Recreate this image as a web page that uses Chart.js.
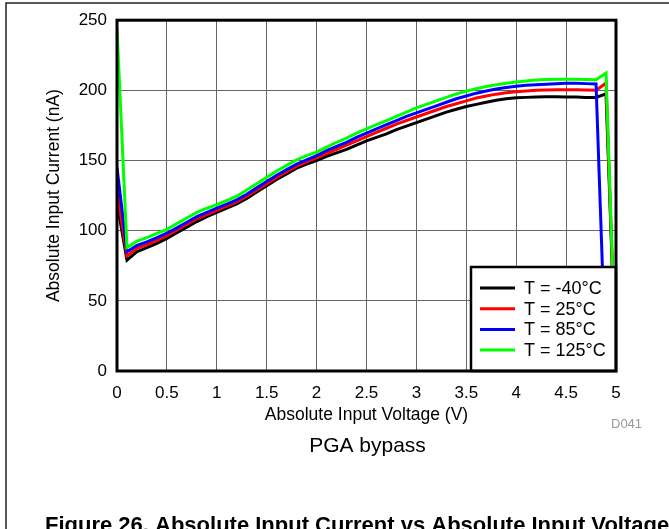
<!DOCTYPE html>
<html>
<head>
<meta charset="utf-8">
<script src="https://cdn.jsdelivr.net/npm/chart.js@4.4.1/dist/chart.umd.min.js"></script>
<style>
  html, body { margin: 0; padding: 0; background: #fff; }
  #wrap { width: 669px; height: 529px; position: relative; }
</style>
</head>
<body>
<div id="wrap"><canvas id="chart" width="669" height="529"></canvas></div>
<script>
// Absolute input voltage (V)
const voltage = [0, 0.1, 0.2, 0.3, 0.4, 0.5, 0.6, 0.7, 0.8, 0.9,
  1, 1.1, 1.2, 1.3, 1.4, 1.5, 1.6, 1.7, 1.8, 1.9,
  2, 2.1, 2.2, 2.3, 2.4, 2.5, 2.6, 2.7, 2.8, 2.9,
  3, 3.1, 3.2, 3.3, 3.4, 3.5, 3.6, 3.7, 3.8, 3.9,
  4, 4.1, 4.2, 4.3, 4.4, 4.5, 4.6, 4.7, 4.8, 4.9, 5];

// Absolute input current (nA), one list per temperature
const tempM40 = [120, 79, 85, 88, 91, 94.5, 98.5, 102.5, 106.5, 110,
  113, 116, 119, 123, 127.5, 132, 136.5, 140.5, 144.5, 147.5,
  150, 153, 155.5, 158, 161, 164, 166.5, 169, 172, 174.5,
  177, 179.5, 182, 184.5, 186.5, 188.5, 190, 191.5, 193, 194,
  194.7, 195, 195.2, 195.4, 195.5, 195.3, 195.2, 195, 195, 197.5, 0];
const temp25 = [128, 82, 87.5, 90, 93, 96.5, 100.5, 104.5, 108.5, 111.5,
  114.5, 117.5, 120.5, 124.5, 129, 133.5, 138, 142, 146, 149,
  152, 155, 158, 161, 164, 167, 170, 173, 176, 178.5,
  181, 183.5, 186, 188.5, 190.5, 192.5, 194.5, 196, 197.3, 198.3,
  199, 199.6, 200, 200.3, 200.5, 200.5, 200.4, 200.2, 200, 205.3, 0];
const temp85 = [145, 85, 89.5, 92, 95, 98.2, 102, 106, 110, 113,
  116, 119, 122, 126, 130.5, 135, 139.5, 143.5, 147.5, 150.5,
  153.5, 157, 160, 163, 166.5, 169.5, 172.5, 175.5, 178.5, 181.5,
  184, 186.5, 189, 191.5, 194, 196, 198, 199.5, 201, 202,
  203, 203.6, 204, 204.4, 204.7, 205, 205, 204.8, 204.5, 0, 0];
const temp125 = [244, 88, 92.5, 95, 98, 101, 105, 109, 113, 116,
  118.6, 121.5, 124.6, 129, 133.5, 138, 142.5, 146.5, 150.5, 153.5,
  156, 159.5, 163, 166, 169.5, 172.5, 175.5, 178.5, 181.5, 184.5,
  187.5, 190, 192.5, 195, 197.5, 199.4, 201.2, 202.8, 204, 205,
  206, 206.7, 207.3, 207.7, 208, 208, 208, 207.8, 207.5, 212.4, 0];

const seriesLabels = ['T = -40\u00B0C', 'T = 25\u00B0C', 'T = 85\u00B0C', 'T = 125\u00B0C'];
const seriesColors = ['#000000', '#FF0000', '#0000FF', '#00FF00'];
const seriesValues = [tempM40, temp25, temp85, temp125];

const FONT = '"Liberation Sans", Arial, sans-serif';

function pts(vals) {
  return voltage.map((v, i) => ({ x: v, y: vals[i] }));
}

const datasets = seriesValues.map((vals, i) => ({
  label: seriesLabels[i],
  data: pts(vals),
  borderColor: seriesColors[i],
  backgroundColor: seriesColors[i],
  borderWidth: 3,
  pointRadius: 0,
  tension: 0,
  order: 3 - i
}));

// plot frame, legend box inside the plot, and the loose texts around it
const extras = {
  id: 'extras',
  afterDatasetsDraw(chart) {
    const ctx = chart.ctx;
    const a = chart.chartArea;
    ctx.save();
    // legend box at lower right
    const lx = 471, ly = 267;
    ctx.fillStyle = '#fff';
    ctx.fillRect(lx, ly, a.right - lx, a.bottom - ly);
    ctx.strokeStyle = '#000';
    ctx.lineWidth = 2.5;
    ctx.strokeRect(lx, ly, a.right - lx, a.bottom - ly);
    ctx.font = '18px ' + FONT;
    ctx.textBaseline = 'middle';
    ctx.textAlign = 'left';
    seriesLabels.forEach((lab, i) => {
      const y = 288 + i * 20.7;
      ctx.strokeStyle = seriesColors[i];
      ctx.lineWidth = 3;
      ctx.beginPath();
      ctx.moveTo(480, y);
      ctx.lineTo(515, y);
      ctx.stroke();
      ctx.fillStyle = '#000';
      ctx.fillText(lab, 524, y + 1);
    });
    // plot border
    ctx.strokeStyle = '#000';
    ctx.lineWidth = 3;
    ctx.strokeRect(a.left, a.top, a.right - a.left, a.bottom - a.top);
    ctx.restore();
  },
  afterDraw(chart) {
    const ctx = chart.ctx;
    const a = chart.chartArea;
    const cx = (a.left + a.right) / 2;
    ctx.save();
    ctx.fillStyle = '#000';
    ctx.textBaseline = 'alphabetic';
    ctx.textAlign = 'center';
    ctx.font = '17.5px ' + FONT;
    ctx.fillText('Absolute Input Voltage (V)', cx, 419.5);
    ctx.save();
    ctx.translate(59, (a.top + a.bottom) / 2);
    ctx.rotate(-Math.PI / 2);
    ctx.fillText('Absolute Input Current (nA)', 0, 0);
    ctx.restore();
    ctx.font = '21px ' + FONT;
    ctx.fillText('PGA bypass', cx + 1, 451.5);
    ctx.textAlign = 'left';
    ctx.font = 'bold 22px ' + FONT;
    ctx.fillText('Figure 26. Absolute Input Current vs Absolute Input Voltage', 45, 532);
    ctx.fillStyle = '#999';
    ctx.font = '13px ' + FONT;
    ctx.fillText('D041', 611, 428);
    // page frame
    ctx.strokeStyle = '#222';
    ctx.lineWidth = 1.5;
    ctx.beginPath();
    ctx.moveTo(6, 529);
    ctx.lineTo(6, 3);
    ctx.lineTo(669, 3);
    ctx.stroke();
    ctx.restore();
  }
};

new Chart(document.getElementById('chart'), {
  type: 'line',
  data: { datasets: datasets },
  options: {
    responsive: false,
    animation: false,
    layout: { padding: { top: 17, right: 53, left: 0, bottom: 0 } },
    plugins: { legend: { display: false }, tooltip: { enabled: false } },
    scales: {
      x: {
        type: 'linear',
        min: 0,
        max: 5,
        ticks: {
          stepSize: 0.5, color: '#000', padding: 12, maxRotation: 0,
          font: { family: FONT, size: 17 },
          callback: (v) => String(v)
        },
        grid: { color: '#666', lineWidth: 1, drawTicks: false },
        border: { display: false },
        afterFit(scale) { scale.height = 158; }
      },
      y: {
        min: 0,
        max: 250,
        ticks: { stepSize: 50, color: '#000', padding: 10, font: { family: FONT, size: 17 } },
        grid: { color: '#666', lineWidth: 1, drawTicks: false },
        border: { display: false },
        afterFit(scale) { scale.width = 117; }
      }
    }
  },
  plugins: [extras]
});
</script>
</body>
</html>
